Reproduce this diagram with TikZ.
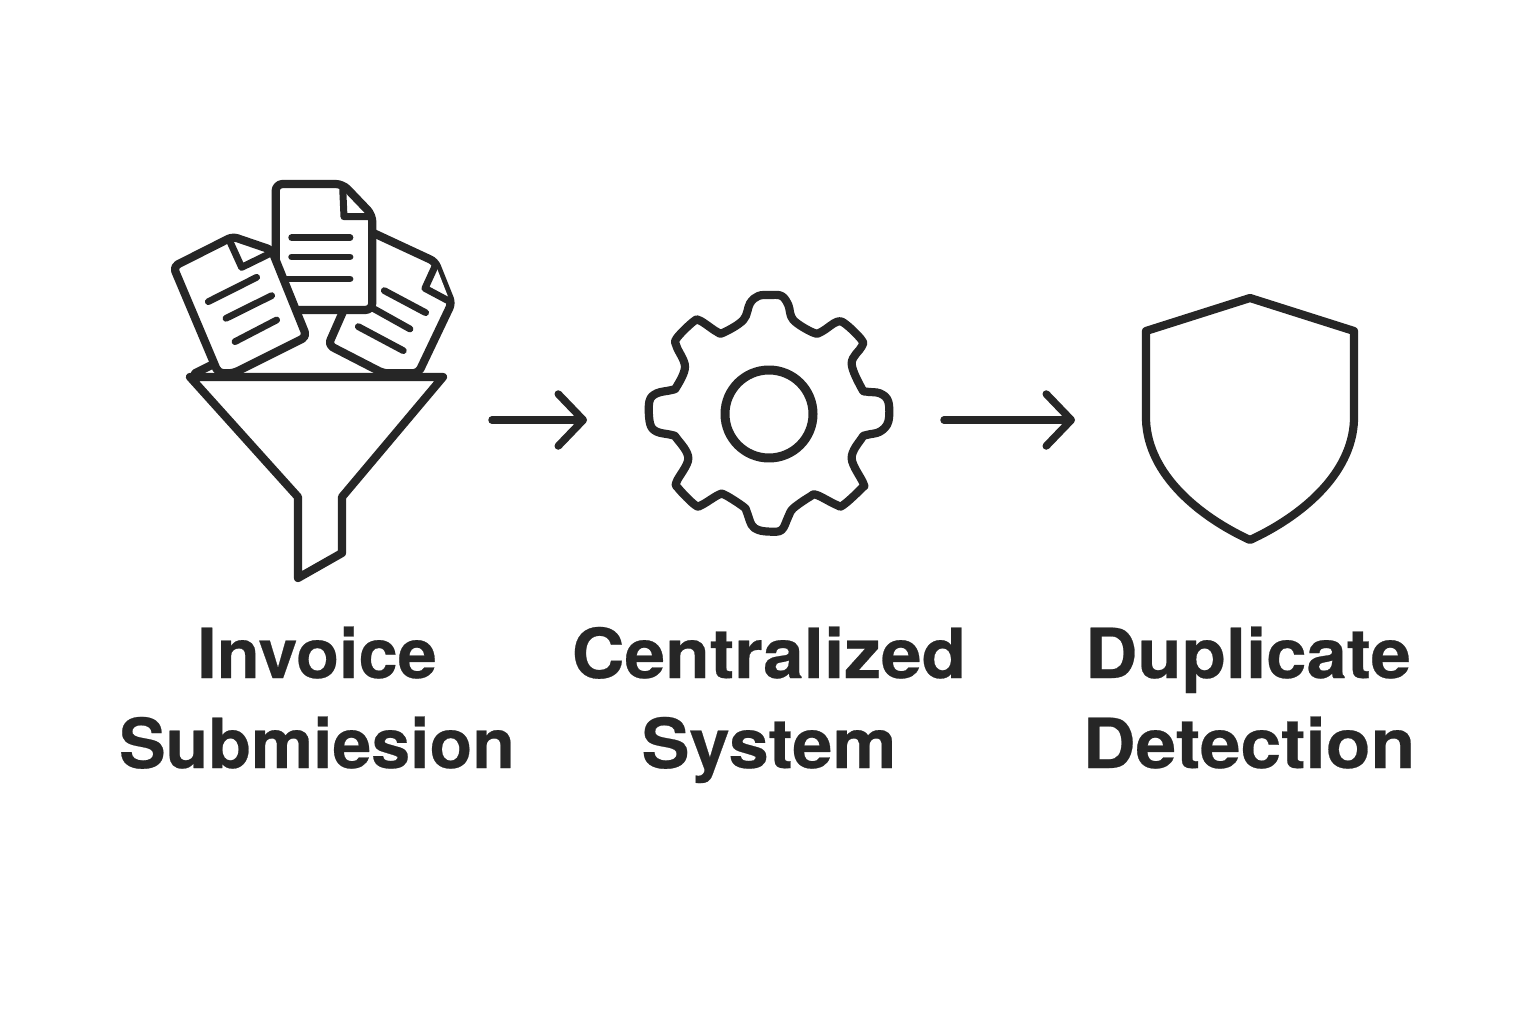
\documentclass[tikz,border=0pt]{standalone}
\usepackage{fontspec}
\setmainfont{TeX Gyre Heros}[BoldFeatures={FakeBold=0.35}]
\usetikzlibrary{arrows.meta}
\definecolor{ink}{HTML}{262626}
\tikzset{
  icon/.style={draw=ink,line width=8.2pt,line join=round,line cap=round},
  paper/.style={icon,fill=white,rounded corners=5pt},
  textline/.style={draw=ink,line width=6.8pt,line cap=round},
  flow/.style={draw=ink,line width=7.5pt,line cap=round,line join=round,
    -{Straight Barb[round,length=25pt,width=52pt]}},
  caption/.style={anchor=base,text=ink,transform shape,font=\fontsize{69}{69}\selectfont\bfseries,inner sep=0pt},
  zoomA/.style={shift={(150,170)},x=0.3333pt,y=-0.3333pt},
  zoomB/.style={shift={(630,280)},x=0.3333pt,y=-0.3333pt}
}
\begin{document}
\begin{tikzpicture}[x=1pt,y=-1pt]
\useasboundingbox[fill=white] (0,0) rectangle (1536,1024);

% documents
\begin{scope}[zoomA]
  \draw[icon] (135,610) -- (185,585);
  % right document
  \draw[paper] (640,175) -- (855,275) -- (905,400) -- (805,610) -- (700,610) -- (535,525) -- (590,400) -- cycle;
  \draw[icon,fill=white,line width=7pt] (857,285) -- (825,355) -- (900,395);
  \draw[textline] (703,362) -- (827,428);
  \draw[textline] (660,410) -- (780,477);
  \draw[textline] (625,470) -- (760,542);
  % centre document
  \draw[paper,rounded corners=7pt] (377,42) -- (578,42) -- (667,135) -- (667,420) -- (420,420) -- (377,300) -- cycle;
  \draw[icon,line width=7pt] (578,50) -- (582,140) -- (662,140);
  \draw[textline] (425,203) -- (600,203);
  \draw[textline] (425,261) -- (600,261);
  \draw[textline] (400,327) -- (600,327);
  % left document
  \draw[paper] (70,290) -- (248,200) -- (365,240) -- (470,500) -- (250,610) -- (205,610) -- cycle;
  \draw[icon,line width=7pt] (240,215) -- (275,292) -- (365,248);
  \draw[textline] (175,395) -- (320,322);
  \draw[textline] (228,445) -- (365,377);
  \draw[textline] (255,515) -- (380,450);
\end{scope}

% funnel
\draw[icon,fill=white] (190,377) -- (443,377) -- (342,497) -- (342,553) -- (298,578) -- (298,497) -- cycle;

% gear
\begin{scope}[zoomB]
  \draw[icon] plot[smooth cycle,tension=0.6] coordinates {
    (280,158) (340,120) (360,70) (385,48) (420,45) (455,48) (475,75) (490,120)
    (550,158) (575,155) (622,125) (650,135) (695,180) (695,200) (665,250)
    (695,325) (710,335) (750,340) (775,365) (775,425) (750,455) (710,465) (695,475)
    (665,535) (700,610) (695,625) (640,675) (620,675) (560,645) (540,650) (490,685)
    (475,710) (455,750) (420,755) (385,750) (365,735) (350,695) (340,680) (285,645)
    (265,645) (215,675) (195,675) (145,625) (140,605) (175,535) (140,475) (125,465)
    (80,455) (60,430) (58,365) (80,340) (125,330) (140,320) (165,260) (140,200)
    (140,175) (190,125) (210,122) (260,155)};
\end{scope}
\draw[icon,line width=9pt] (769,414) circle[radius=44];

% shield
\draw[icon] (1146,331) -- (1250,298) -- (1354,331) -- (1354,420)
  .. controls (1352,475) and (1300,517) .. (1250,540)
  .. controls (1200,517) and (1148,475) .. (1146,420) -- cycle;

% connectors
\coordinate (funnelout) at (492,420);
\coordinate (gearin) at (587,420);
\coordinate (gearout) at (944,420);
\coordinate (shieldin) at (1075,420);
\draw[flow] (funnelout) -- (gearin);
\draw[flow] (gearout) -- (shieldin);

% captions
\node[caption,xscale=1.02] (inv) at (317,678) {Invoice};
\node[caption,xscale=1.012] (sub) at (317,768) {Submiesion};
\node[caption,xscale=1.06] (cen) at (769,678) {Centralized};
\node[caption,xscale=1.045] (sys) at (769,768) {System};
\node[caption,xscale=1.05] (dup) at (1248,678) {Duplicate};
\node[caption,xscale=1.06] (det) at (1249,768) {Detection};
\end{tikzpicture}
\end{document}
